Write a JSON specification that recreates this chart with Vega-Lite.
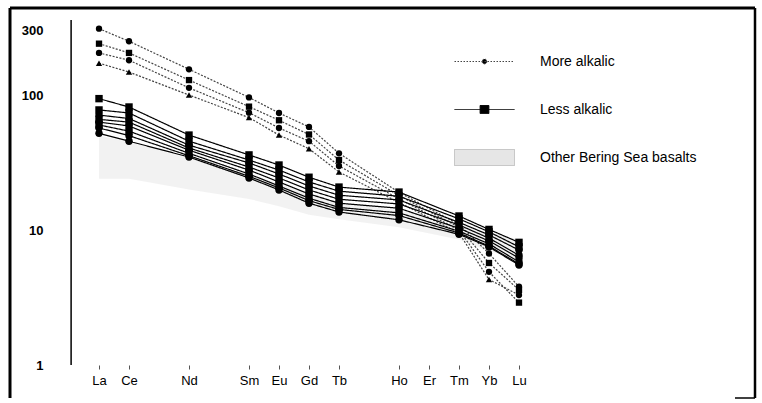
{
  "$schema": "https://vega.github.io/schema/vega-lite/v6.json",
  "width": 745,
  "height": 390,
  "autosize": {"type": "none"},
  "padding": {"left": 10, "top": 8, "right": 7, "bottom": 5},
  "background": "white",
  "config": {
    "view": {"stroke": null},
    "font": "Liberation Sans"
  },
  "datasets": {
    "field": [
      {"Z": 57, "lo": 24, "hi": 50},
      {"Z": 58, "lo": 24, "hi": 45},
      {"Z": 60, "lo": 20, "hi": 34},
      {"Z": 62, "lo": 17, "hi": 26},
      {"Z": 63, "lo": 15, "hi": 22},
      {"Z": 64, "lo": 13, "hi": 19},
      {"Z": 65, "lo": 12, "hi": 16},
      {"Z": 67, "lo": 10.5, "hi": 14},
      {"Z": 69, "lo": 8.5, "hi": 11},
      {"Z": 70, "lo": 7, "hi": 9.5},
      {"Z": 71, "lo": 6, "hi": 8.5}
    ],
    "ree": [
      {"sample": "A", "group": "More alkalic", "marker": "circle", "Z": 57, "v": 310},
      {"sample": "A", "group": "More alkalic", "marker": "circle", "Z": 58, "v": 250},
      {"sample": "A", "group": "More alkalic", "marker": "circle", "Z": 60, "v": 155},
      {"sample": "A", "group": "More alkalic", "marker": "circle", "Z": 62, "v": 96},
      {"sample": "A", "group": "More alkalic", "marker": "circle", "Z": 63, "v": 73.6},
      {"sample": "A", "group": "More alkalic", "marker": "circle", "Z": 64, "v": 58},
      {"sample": "A", "group": "More alkalic", "marker": "circle", "Z": 65, "v": 37},
      {"sample": "A", "group": "More alkalic", "marker": "circle", "Z": 67, "v": 19},
      {"sample": "A", "group": "More alkalic", "marker": "circle", "Z": 69, "v": 11},
      {"sample": "A", "group": "More alkalic", "marker": "circle", "Z": 70, "v": 6.7},
      {"sample": "A", "group": "More alkalic", "marker": "circle", "Z": 71, "v": 3.8},

      {"sample": "B", "group": "More alkalic", "marker": "square", "Z": 57, "v": 240},
      {"sample": "B", "group": "More alkalic", "marker": "square", "Z": 58, "v": 205},
      {"sample": "B", "group": "More alkalic", "marker": "square", "Z": 60, "v": 129},
      {"sample": "B", "group": "More alkalic", "marker": "square", "Z": 62, "v": 82},
      {"sample": "B", "group": "More alkalic", "marker": "square", "Z": 63, "v": 65},
      {"sample": "B", "group": "More alkalic", "marker": "square", "Z": 64, "v": 51},
      {"sample": "B", "group": "More alkalic", "marker": "square", "Z": 65, "v": 33},
      {"sample": "B", "group": "More alkalic", "marker": "square", "Z": 67, "v": 18},
      {"sample": "B", "group": "More alkalic", "marker": "square", "Z": 69, "v": 10.5},
      {"sample": "B", "group": "More alkalic", "marker": "square", "Z": 70, "v": 5.7},
      {"sample": "B", "group": "More alkalic", "marker": "square", "Z": 71, "v": 3.6},

      {"sample": "C", "group": "More alkalic", "marker": "circle", "Z": 57, "v": 205},
      {"sample": "C", "group": "More alkalic", "marker": "circle", "Z": 58, "v": 181},
      {"sample": "C", "group": "More alkalic", "marker": "circle", "Z": 60, "v": 113},
      {"sample": "C", "group": "More alkalic", "marker": "circle", "Z": 62, "v": 74},
      {"sample": "C", "group": "More alkalic", "marker": "circle", "Z": 63, "v": 57},
      {"sample": "C", "group": "More alkalic", "marker": "circle", "Z": 64, "v": 45.5},
      {"sample": "C", "group": "More alkalic", "marker": "circle", "Z": 65, "v": 29.8},
      {"sample": "C", "group": "More alkalic", "marker": "circle", "Z": 67, "v": 17},
      {"sample": "C", "group": "More alkalic", "marker": "circle", "Z": 69, "v": 10},
      {"sample": "C", "group": "More alkalic", "marker": "circle", "Z": 70, "v": 4.9},
      {"sample": "C", "group": "More alkalic", "marker": "square", "Z": 71, "v": 2.9},

      {"sample": "D", "group": "More alkalic", "marker": "triangle-up", "Z": 57, "v": 172},
      {"sample": "D", "group": "More alkalic", "marker": "triangle-up", "Z": 58, "v": 148},
      {"sample": "D", "group": "More alkalic", "marker": "triangle-up", "Z": 60, "v": 100},
      {"sample": "D", "group": "More alkalic", "marker": "triangle-up", "Z": 62, "v": 68},
      {"sample": "D", "group": "More alkalic", "marker": "triangle-up", "Z": 63, "v": 50.5},
      {"sample": "D", "group": "More alkalic", "marker": "triangle-up", "Z": 64, "v": 40},
      {"sample": "D", "group": "More alkalic", "marker": "triangle-up", "Z": 65, "v": 26.9},
      {"sample": "D", "group": "More alkalic", "marker": "triangle-up", "Z": 67, "v": 16},
      {"sample": "D", "group": "More alkalic", "marker": "triangle-up", "Z": 69, "v": 9.5},
      {"sample": "D", "group": "More alkalic", "marker": "triangle-up", "Z": 70, "v": 4.3},
      {"sample": "D", "group": "More alkalic", "marker": "circle", "Z": 71, "v": 3.3},

      {"sample": "L1", "group": "Less alkalic", "marker": "square", "Z": 57, "v": 94},
      {"sample": "L1", "group": "Less alkalic", "marker": "square", "Z": 58, "v": 81.5},
      {"sample": "L1", "group": "Less alkalic", "marker": "square", "Z": 60, "v": 50.5},
      {"sample": "L1", "group": "Less alkalic", "marker": "square", "Z": 62, "v": 36},
      {"sample": "L1", "group": "Less alkalic", "marker": "square", "Z": 63, "v": 30.3},
      {"sample": "L1", "group": "Less alkalic", "marker": "square", "Z": 64, "v": 24.6},
      {"sample": "L1", "group": "Less alkalic", "marker": "square", "Z": 65, "v": 20.8},
      {"sample": "L1", "group": "Less alkalic", "marker": "square", "Z": 67, "v": 19.1},
      {"sample": "L1", "group": "Less alkalic", "marker": "square", "Z": 69, "v": 12.7},
      {"sample": "L1", "group": "Less alkalic", "marker": "square", "Z": 70, "v": 10.1},
      {"sample": "L1", "group": "Less alkalic", "marker": "square", "Z": 71, "v": 8.1},

      {"sample": "L2", "group": "Less alkalic", "marker": "square", "Z": 57, "v": 77.5},
      {"sample": "L2", "group": "Less alkalic", "marker": "square", "Z": 58, "v": 73.6},
      {"sample": "L2", "group": "Less alkalic", "marker": "square", "Z": 60, "v": 45.5},
      {"sample": "L2", "group": "Less alkalic", "marker": "square", "Z": 62, "v": 33},
      {"sample": "L2", "group": "Less alkalic", "marker": "square", "Z": 63, "v": 27.8},
      {"sample": "L2", "group": "Less alkalic", "marker": "square", "Z": 64, "v": 22.7},
      {"sample": "L2", "group": "Less alkalic", "marker": "square", "Z": 65, "v": 19.4},
      {"sample": "L2", "group": "Less alkalic", "marker": "square", "Z": 67, "v": 17.8},
      {"sample": "L2", "group": "Less alkalic", "marker": "square", "Z": 69, "v": 12.1},
      {"sample": "L2", "group": "Less alkalic", "marker": "square", "Z": 70, "v": 9.7},
      {"sample": "L2", "group": "Less alkalic", "marker": "square", "Z": 71, "v": 7.5},

      {"sample": "L3", "group": "Less alkalic", "marker": "circle", "Z": 57, "v": 71},
      {"sample": "L3", "group": "Less alkalic", "marker": "circle", "Z": 58, "v": 67},
      {"sample": "L3", "group": "Less alkalic", "marker": "circle", "Z": 60, "v": 42.5},
      {"sample": "L3", "group": "Less alkalic", "marker": "circle", "Z": 62, "v": 31.4},
      {"sample": "L3", "group": "Less alkalic", "marker": "circle", "Z": 63, "v": 26},
      {"sample": "L3", "group": "Less alkalic", "marker": "circle", "Z": 64, "v": 21.2},
      {"sample": "L3", "group": "Less alkalic", "marker": "circle", "Z": 65, "v": 18.1},
      {"sample": "L3", "group": "Less alkalic", "marker": "circle", "Z": 67, "v": 16.7},
      {"sample": "L3", "group": "Less alkalic", "marker": "circle", "Z": 69, "v": 11.4},
      {"sample": "L3", "group": "Less alkalic", "marker": "circle", "Z": 70, "v": 9.2},
      {"sample": "L3", "group": "Less alkalic", "marker": "circle", "Z": 71, "v": 7.1},

      {"sample": "L4", "group": "Less alkalic", "marker": "square", "Z": 57, "v": 66},
      {"sample": "L4", "group": "Less alkalic", "marker": "square", "Z": 58, "v": 63},
      {"sample": "L4", "group": "Less alkalic", "marker": "square", "Z": 60, "v": 40.5},
      {"sample": "L4", "group": "Less alkalic", "marker": "square", "Z": 62, "v": 29.3},
      {"sample": "L4", "group": "Less alkalic", "marker": "square", "Z": 63, "v": 24.3},
      {"sample": "L4", "group": "Less alkalic", "marker": "square", "Z": 64, "v": 19.8},
      {"sample": "L4", "group": "Less alkalic", "marker": "square", "Z": 65, "v": 16.9},
      {"sample": "L4", "group": "Less alkalic", "marker": "square", "Z": 67, "v": 15.6},
      {"sample": "L4", "group": "Less alkalic", "marker": "square", "Z": 69, "v": 10.9},
      {"sample": "L4", "group": "Less alkalic", "marker": "square", "Z": 70, "v": 8.7},
      {"sample": "L4", "group": "Less alkalic", "marker": "circle", "Z": 71, "v": 6.5},

      {"sample": "L5", "group": "Less alkalic", "marker": "circle", "Z": 57, "v": 63},
      {"sample": "L5", "group": "Less alkalic", "marker": "circle", "Z": 58, "v": 59},
      {"sample": "L5", "group": "Less alkalic", "marker": "circle", "Z": 60, "v": 39},
      {"sample": "L5", "group": "Less alkalic", "marker": "circle", "Z": 62, "v": 27.8},
      {"sample": "L5", "group": "Less alkalic", "marker": "circle", "Z": 63, "v": 22.7},
      {"sample": "L5", "group": "Less alkalic", "marker": "circle", "Z": 64, "v": 18.5},
      {"sample": "L5", "group": "Less alkalic", "marker": "circle", "Z": 65, "v": 15.8},
      {"sample": "L5", "group": "Less alkalic", "marker": "circle", "Z": 67, "v": 14.5},
      {"sample": "L5", "group": "Less alkalic", "marker": "circle", "Z": 69, "v": 10.3},
      {"sample": "L5", "group": "Less alkalic", "marker": "circle", "Z": 70, "v": 8.3},
      {"sample": "L5", "group": "Less alkalic", "marker": "circle", "Z": 71, "v": 6.2},

      {"sample": "L6", "group": "Less alkalic", "marker": "square", "Z": 57, "v": 60},
      {"sample": "L6", "group": "Less alkalic", "marker": "square", "Z": 58, "v": 54},
      {"sample": "L6", "group": "Less alkalic", "marker": "square", "Z": 60, "v": 37},
      {"sample": "L6", "group": "Less alkalic", "marker": "square", "Z": 62, "v": 26},
      {"sample": "L6", "group": "Less alkalic", "marker": "square", "Z": 63, "v": 21.2},
      {"sample": "L6", "group": "Less alkalic", "marker": "square", "Z": 64, "v": 17.2},
      {"sample": "L6", "group": "Less alkalic", "marker": "square", "Z": 65, "v": 14.7},
      {"sample": "L6", "group": "Less alkalic", "marker": "square", "Z": 67, "v": 13.4},
      {"sample": "L6", "group": "Less alkalic", "marker": "square", "Z": 69, "v": 9.8},
      {"sample": "L6", "group": "Less alkalic", "marker": "square", "Z": 70, "v": 7.9},
      {"sample": "L6", "group": "Less alkalic", "marker": "circle", "Z": 71, "v": 5.8},

      {"sample": "L7", "group": "Less alkalic", "marker": "circle", "Z": 57, "v": 57},
      {"sample": "L7", "group": "Less alkalic", "marker": "circle", "Z": 58, "v": 50},
      {"sample": "L7", "group": "Less alkalic", "marker": "circle", "Z": 60, "v": 35.5},
      {"sample": "L7", "group": "Less alkalic", "marker": "circle", "Z": 62, "v": 25},
      {"sample": "L7", "group": "Less alkalic", "marker": "circle", "Z": 63, "v": 20.5},
      {"sample": "L7", "group": "Less alkalic", "marker": "circle", "Z": 64, "v": 16.5},
      {"sample": "L7", "group": "Less alkalic", "marker": "circle", "Z": 65, "v": 14.2},
      {"sample": "L7", "group": "Less alkalic", "marker": "circle", "Z": 67, "v": 12.8},
      {"sample": "L7", "group": "Less alkalic", "marker": "circle", "Z": 69, "v": 9.5},
      {"sample": "L7", "group": "Less alkalic", "marker": "circle", "Z": 70, "v": 7.6},
      {"sample": "L7", "group": "Less alkalic", "marker": "circle", "Z": 71, "v": 5.6},

      {"sample": "L8", "group": "Less alkalic", "marker": "circle", "Z": 57, "v": 52},
      {"sample": "L8", "group": "Less alkalic", "marker": "circle", "Z": 58, "v": 45.5},
      {"sample": "L8", "group": "Less alkalic", "marker": "circle", "Z": 60, "v": 34.7},
      {"sample": "L8", "group": "Less alkalic", "marker": "circle", "Z": 62, "v": 24.3},
      {"sample": "L8", "group": "Less alkalic", "marker": "circle", "Z": 63, "v": 19.8},
      {"sample": "L8", "group": "Less alkalic", "marker": "circle", "Z": 64, "v": 15.8},
      {"sample": "L8", "group": "Less alkalic", "marker": "circle", "Z": 65, "v": 13.6},
      {"sample": "L8", "group": "Less alkalic", "marker": "circle", "Z": 67, "v": 11.9},
      {"sample": "L8", "group": "Less alkalic", "marker": "circle", "Z": 69, "v": 9.3},
      {"sample": "L8", "group": "Less alkalic", "marker": "circle", "Z": 70, "v": 7.5},
      {"sample": "L8", "group": "Less alkalic", "marker": "circle", "Z": 71, "v": 5.5}
    ]
  },
  "layer": [
    {
      "data": {"name": "field"},
      "mark": {"type": "area", "fill": "#c4c4c4", "opacity": 0.22, "stroke": null},
      "encoding": {
        "x": {"field": "Z", "type": "quantitative",
          "scale": {"domain": [54.033, 78.867], "nice": false, "zero": false},
          "axis": {
            "orient": "bottom", "offset": -33, "domain": false,
            "values": [57, 58, 60, 62, 63, 64, 65, 67, 68, 69, 70, 71],
            "labelExpr": "['La','Ce','Pr','Nd','Pm','Sm','Eu','Gd','Tb','Dy','Ho','Er','Tm','Yb','Lu'][datum.value - 57]",
            "tickColor": "#555", "tickSize": 4, "tickWidth": 1,
            "labelFont": "Liberation Sans", "labelFontSize": 13, "labelColor": "black",
            "labelPadding": 5, "grid": false, "title": null
          }
        },
        "y": {"field": "hi", "type": "quantitative",
          "scale": {"type": "log", "domain": [0.57, 441], "nice": false},
          "axis": {
            "orient": "left", "offset": -60, "domain": false, "ticks": false,
            "values": [1, 10, 100, 300], "format": "d",
            "labelFont": "Liberation Sans", "labelFontSize": 13, "labelFontWeight": "bold",
            "labelColor": "black", "labelPadding": 27, "grid": false, "title": null
          }
        },
        "y2": {"field": "lo"}
      }
    },
    {
      "data": {"name": "ree"},
      "mark": {"type": "line", "strokeWidth": 1.2},
      "encoding": {
        "x": {"field": "Z", "type": "quantitative"},
        "y": {"field": "v", "type": "quantitative"},
        "detail": {"field": "sample"},
        "color": {"field": "group", "type": "nominal",
          "scale": {"domain": ["More alkalic", "Less alkalic", "Other Bering Sea basalts"], "range": ["#444444", "#000000", "#bbbbbb"]},
          "legend": {
            "title": null, "orient": "none", "legendX": 454, "legendY": 33,
            "labelFont": "Liberation Sans", "labelFontSize": 14, "labelColor": "black",
            "symbolSize": 1600, "labelOffset": 35, "rowPadding": 20,
            "encode": {
              "symbols": {
                "update": {
                  "shape": {"signal": "datum.value === 'More alkalic' ? 'M-1.5,0H1.5M-0.12,0A0.12,0.12,0,1,0,0.12,0A0.12,0.12,0,1,0,-0.12,0Z' : datum.value === 'Less alkalic' ? 'M-1.5,0H1.5M-0.22,-0.2H0.22V0.2H-0.22Z' : 'M-1.5,-0.4H1.5V0.4H-1.5Z'"},
                  "fill": {"signal": "datum.value === 'Other Bering Sea basalts' ? '#e6e6e6' : 'black'"},
                  "stroke": {"signal": "datum.value === 'Other Bering Sea basalts' ? 'transparent' : '#333333'"},
                  "strokeDash": {"signal": "datum.value === 'More alkalic' ? [1.5, 1.5] : [1, 0]"},
                  "strokeWidth": {"value": 1},
                  "opacity": {"value": 1}
                }
              }
            }
          }
        },
        "strokeDash": {"field": "group", "type": "nominal",
          "scale": {"domain": ["More alkalic", "Less alkalic"], "range": [[2, 1.5], [1, 0]]},
          "legend": null
        },
        "strokeWidth": {"field": "group", "type": "nominal",
          "scale": {"domain": ["More alkalic", "Less alkalic"], "range": [0.9, 1.6]},
          "legend": null
        }
      }
    },
    {
      "data": {"name": "ree"},
      "mark": {"type": "point", "filled": true, "opacity": 1, "color": "black"},
      "encoding": {
        "x": {"field": "Z", "type": "quantitative"},
        "y": {"field": "v", "type": "quantitative"},
        "shape": {"field": "marker", "type": "nominal",
          "scale": {"domain": ["circle", "square", "triangle-up"], "range": ["circle", "square", "triangle-up"]},
          "legend": null
        },
        "size": {"field": "group", "type": "nominal",
          "scale": {"domain": ["More alkalic", "Less alkalic"], "range": [40, 55]},
          "legend": null
        }
      }
    },
    {
      "data": {"values": [{}]},
      "mark": {"type": "rule", "color": "black", "strokeWidth": 1.5},
      "encoding": {
        "x": {"datum": 56.07, "type": "quantitative"},
        "y": {"datum": 1, "type": "quantitative"},
        "y2": {"datum": 360}
      }
    },
    {
      "data": {"values": [{}]},
      "mark": {"type": "rule", "color": "black", "strokeWidth": 3},
      "encoding": {"y": {"datum": 441, "type": "quantitative"}}
    },
    {
      "data": {"values": [{}]},
      "mark": {"type": "rule", "color": "black", "strokeWidth": 3},
      "encoding": {"x": {"datum": 54.033, "type": "quantitative"}}
    },
    {
      "data": {"values": [{}]},
      "mark": {"type": "rule", "color": "black", "strokeWidth": 2.5},
      "encoding": {"x": {"datum": 78.867, "type": "quantitative"}}
    },
    {
      "data": {"values": [{}]},
      "mark": {"type": "rule", "color": "black", "strokeWidth": 1.5},
      "encoding": {
        "y": {"datum": 0.57, "type": "quantitative"},
        "x": {"datum": 78.2, "type": "quantitative"},
        "x2": {"datum": 78.867}
      }
    }
  ]
}
